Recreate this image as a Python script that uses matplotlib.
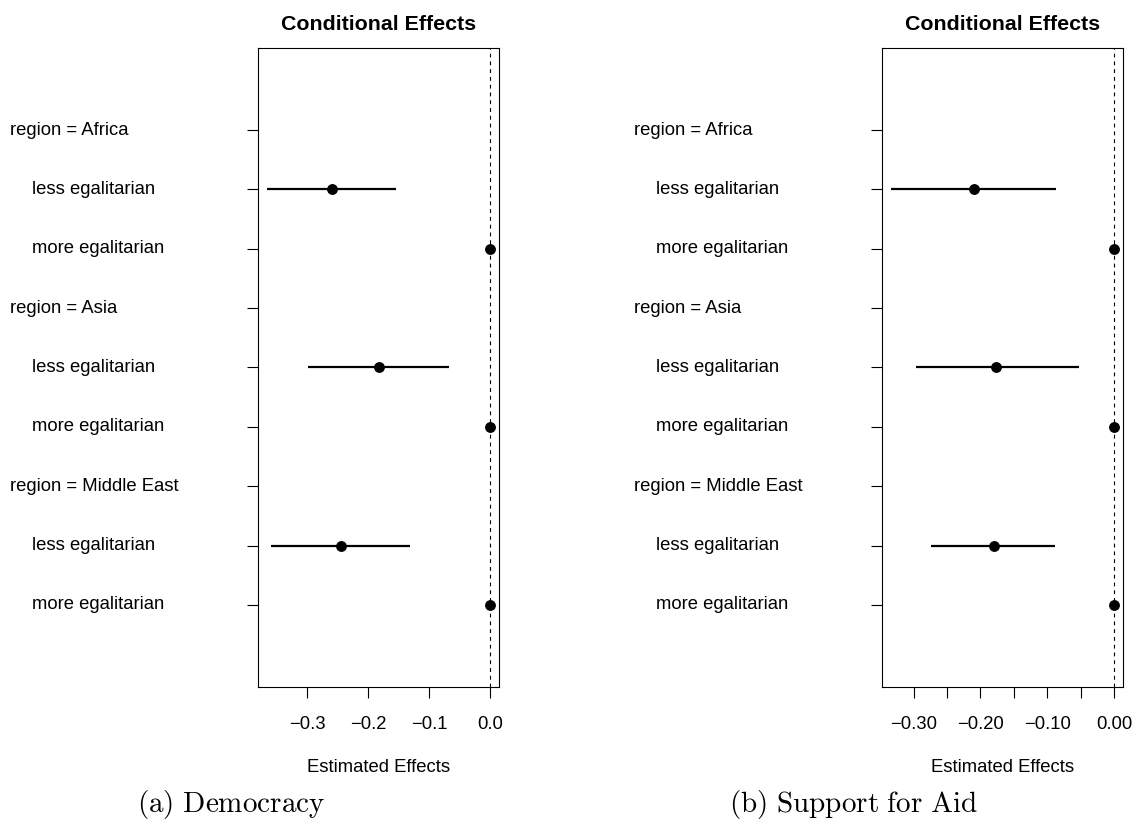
import numpy as np
import matplotlib
matplotlib.use('Agg')
import matplotlib.pyplot as plt
from matplotlib.ticker import MultipleLocator, FuncFormatter

plt.rcParams['font.family'] = ['Liberation Sans', 'DejaVu Sans']
plt.rcParams['mathtext.fontset'] = 'cm'

# rows of the coefficient plot, top to bottom
row_labels = ['region = Africa', 'less egalitarian', 'more egalitarian',
              'region = Asia', 'less egalitarian', 'more egalitarian',
              'region = Middle East', 'less egalitarian', 'more egalitarian']
is_header = [True, False, False, True, False, False, True, False, False]

nan = np.nan
# (a) Democracy
dem_est = [nan, -0.259, 0.0, nan, -0.183, 0.0, nan, -0.245, 0.0]
dem_lo = [nan, -0.366, 0.0, nan, -0.298, 0.0, nan, -0.359, 0.0]
dem_hi = [nan, -0.154, 0.0, nan, -0.068, 0.0, nan, -0.131, 0.0]
# (b) Support for Aid
aid_est = [nan, -0.210, 0.0, nan, -0.176, 0.0, nan, -0.180, 0.0]
aid_lo = [nan, -0.334, 0.0, nan, -0.296, 0.0, nan, -0.274, 0.0]
aid_hi = [nan, -0.087, 0.0, nan, -0.053, 0.0, nan, -0.088, 0.0]

captions = [r'$\mathrm{(a)\ Democracy}$', r'$\mathrm{(b)\ Support\ for\ Aid}$']

W, H = 1133, 822
fs = 13.3


def fmt_minus(v, decimals):
    s = f'{v:.{decimals}f}'
    if s.startswith('-') and float(s) == 0:
        s = s[1:]
    return s.replace('-', '\u2212')


def coef_panel(ax, est, lo, hi, major, show_every, decimals):
    y = np.arange(1, len(row_labels) + 1)
    est = np.array(est)
    lo = np.array(lo)
    hi = np.array(hi)
    ok = ~np.isnan(est)
    ax.hlines(y[ok], lo[ok], hi[ok], color='black', lw=1.6)
    ax.plot(est[ok], y[ok], 'o', color='black', ms=6.8)
    ax.margins(x=0.04)
    ax.axvline(0, color='black', lw=0.8, ls=(0, (3.5, 3.5)))
    ax.set_ylim(len(row_labels) + 1.384, 1 - 1.384)
    ax.set_yticks(y)
    ax.set_yticklabels([])
    ax.tick_params(axis='y', length=8, width=0.8)
    ax.xaxis.set_major_locator(MultipleLocator(major))

    def f(v, pos):
        k = int(round(v / major))
        if k % show_every != 0:
            return ''
        return fmt_minus(v, decimals)
    ax.xaxis.set_major_formatter(FuncFormatter(f))
    ax.tick_params(axis='x', length=8, width=0.8, pad=13, labelsize=fs)
    for sp in ax.spines.values():
        sp.set_linewidth(0.8)
    ax.set_xlabel('Estimated Effects', fontsize=fs, labelpad=18.5)
    ax.set_title('Conditional Effects', fontsize=15.4, fontweight='bold', pad=13)
    wpx = ax.get_position().width * W
    for yy, lab, hd in zip(y, row_labels, is_header):
        off = -248 if hd else -226
        ax.text(off / wpx, yy, lab, transform=ax.get_yaxis_transform(),
                ha='left', va='center', fontsize=fs)


fig = plt.figure(figsize=(W / 100, H / 100), dpi=100)
ax1 = fig.add_axes([258 / W, 1 - 687 / H, 241 / W, 639 / H])
ax2 = fig.add_axes([882 / W, 1 - 687 / H, 241 / W, 639 / H])

coef_panel(ax1, dem_est, dem_lo, dem_hi, 0.1, 1, 1)
coef_panel(ax2, aid_est, aid_lo, aid_hi, 0.05, 2, 2)

fig.text(231 / W, 1 - 804 / H, captions[0], ha='center', va='center', fontsize=21)
fig.text(853 / W, 1 - 804 / H, captions[1], ha='center', va='center', fontsize=21)

fig.savefig('out.png', dpi=100)
